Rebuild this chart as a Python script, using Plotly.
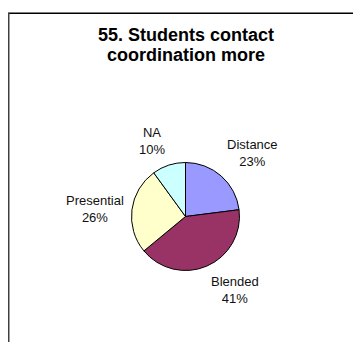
import math
import plotly.graph_objects as go

categories = ["Distance", "Blended", "Presential", "NA"]
values = [23, 41, 26, 10]
colors = ["#9999FF", "#993366", "#FFFFCC", "#CCFFFF"]
title_lines = ["55. Students contact", "coordination more"]

FONT = "Liberation Sans, Arial, sans-serif"
PAGE_W, PAGE_H = 361, 342
OFF = 8                      # default body margin of the html page
FW, FH = PAGE_W - OFF, PAGE_H - OFF
cx, cy, r = 185.5, 216.5, 54  # pie centre / radius in page pixels
label_dist = 60               # distance of label anchor from pie centre


def px(x):
    return (x - OFF) / FW


def py(y):
    return 1 - (y - OFF) / FH


fig = go.Figure(go.Pie(
    labels=categories,
    values=values,
    sort=False,
    direction="clockwise",
    rotation=0,
    marker=dict(colors=colors, line=dict(color="#000000", width=1)),
    textinfo="none",
    domain=dict(x=[px(cx - r), px(cx + r)], y=[py(cy + r), py(cy - r)]),
    showlegend=False,
    hoverinfo="label+percent",
))

# data labels placed outside each slice, at its mid angle
total = sum(values)
cum = 0
for lab, v in zip(categories, values):
    theta = 2 * math.pi * (cum + v / 2) / total
    cum += v
    ux, uy = math.sin(theta), -math.cos(theta)
    ax = cx + label_dist * ux
    ay = cy + label_dist * uy
    xanchor = "left" if ux > 0 else "right"
    yanchor = "bottom" if uy < -0.5 else ("top" if uy > 0.5 else "middle")
    fig.add_annotation(
        text=f"{lab}<br>{round(100 * v / total)}%",
        x=px(ax), y=py(ay), xref="paper", yref="paper",
        xanchor=xanchor, yanchor=yanchor, align="center", showarrow=False,
        font=dict(family=FONT, size=13, color="#111111"),
    )

# title, two lines
for i, line in enumerate(title_lines):
    fig.add_annotation(
        text=f"<b>{line}</b>",
        x=px(cx), y=py(22.5 + 20.5 * i), xref="paper", yref="paper",
        xanchor="center", yanchor="top", showarrow=False,
        font=dict(family=FONT, size=18, color="#000000"),
    )

fig.update_layout(
    width=FW, height=FH,
    margin=dict(l=0, r=0, t=0, b=0),
    paper_bgcolor="#FFFFFF",
    plot_bgcolor="#FFFFFF",
    shapes=[
        dict(type="line", xref="paper", yref="paper", x0=0, x1=1, y0=py(13.3), y1=py(13.3),
             line=dict(color="#000000", width=1.5)),
        dict(type="line", xref="paper", yref="paper", x0=0.5 / FW, x1=0.5 / FW, y0=0, y1=py(13),
             line=dict(color="#404040", width=2)),
    ],
)

fig.write_html("out.html")
